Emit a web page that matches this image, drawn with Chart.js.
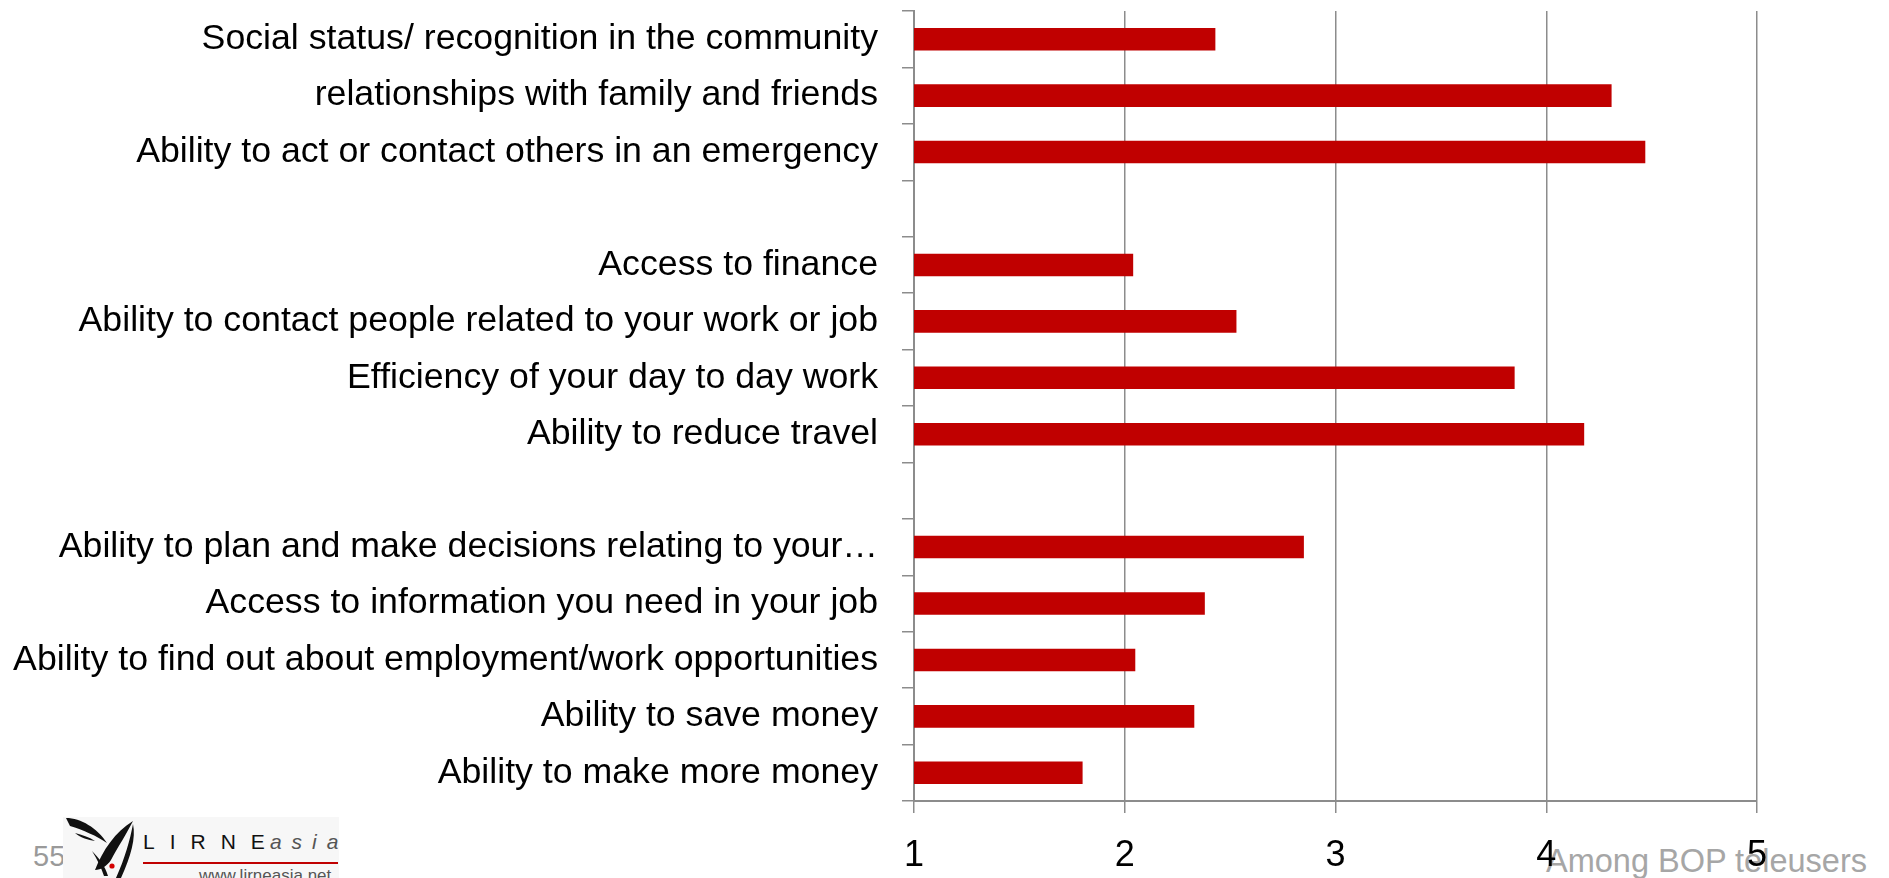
<!DOCTYPE html>
<html>
<head>
<meta charset="utf-8">
<script src="https://cdn.jsdelivr.net/npm/chart.js@4.4.1/dist/chart.umd.min.js"></script>
<style>
  html, body { margin: 0; padding: 0; background: #fff; }
  #wrap { position: relative; width: 1889px; height: 878px; overflow: hidden; }
  #chart { position: absolute; left: 0; top: 0; z-index: 2; }
  .foot { position: absolute; z-index: 1; white-space: nowrap; line-height: 1; }
  #pageNo { left: 33px; top: 840px; font: 29px "Liberation Sans", Arial, sans-serif; color: #9a9a9a; }
  #note { left: 1546px; top: 843px; font: 32.5px "Liberation Sans", Arial, sans-serif; color: #a6a6a6; }
  #logo { left: 63px; top: 817px; width: 276px; height: 61px; background: #f7f7f7; z-index: 1; }
  #logo svg { position: absolute; left: -2px; top: -3px; }
  #brand { position: absolute; left: 80px; top: 13px; font: 21px "Liberation Sans", Arial, sans-serif; color: #111; letter-spacing: 15px; }
  #brand .e { letter-spacing: 5px; }
  #brand i { color: #555; letter-spacing: 10px; }
  #rule { position: absolute; left: 80px; top: 45px; width: 195px; height: 2px; background: #c00000; }
  #url { position: absolute; left: 136px; top: 49px; font: 17px "Liberation Sans", Arial, sans-serif; color: #555; }
</style>
</head>
<body>
<div id="wrap">
  <canvas id="chart" width="1889" height="878"></canvas>
  <div class="foot" id="pageNo">55</div>
  <div class="foot" id="logo">
    <svg width="90" height="64" viewBox="0 0 90 64">
      <path d="M5,4 C20,4 36,14 46,29 C36,22 22,16 9,12 Z" fill="#111"/>
      <path d="M14,19 C21,21 28,23 34,27 C27,26 20,24 14,19 Z" fill="#111"/>
      <path d="M34,56 C42,36 54,18 72,7 C66,19 57,33 50,46 C46,52 40,56 34,56 Z" fill="#111"/>
      <path d="M72,10 C75,24 70,42 60,64 L55,64 C64,44 69,26 72,10 Z" fill="#111"/>
      <path d="M31,37 C38,44 44,52 47,62 L43,62 C40,53 36,45 31,37 Z" fill="#111"/>
      <circle cx="51" cy="52" r="2.6" fill="#d40000"/>
    </svg>
    <div id="brand">LIRN<span class="e">E</span><i>asia</i></div>
    <div id="rule"></div>
    <div id="url">www.lirneasia.net</div>
  </div>
  <div class="foot" id="note">Among BOP teleusers</div>
</div>
<script>
// impact items, top to bottom; blank entries leave a gap between groups
const categories = [
  "Social status/ recognition in the community",
  "relationships with family and friends",
  "Ability to act or contact others in an emergency",
  "",
  "Access to finance",
  "Ability to contact people related to your work or job",
  "Efficiency of your day to day work",
  "Ability to reduce travel",
  " ",
  "Ability to plan and make decisions relating to your\u2026",
  "Access to information you need in your job",
  "Ability to find out about employment/work opportunities",
  "Ability to save money",
  "Ability to make more money"
];

// mean rating on a 1-5 scale
const meanScores = [2.43, 4.31, 4.47, null, 2.04, 2.53, 3.85, 4.18, null, 2.85, 2.38, 2.05, 2.33, 1.80];

const scaleTicks = [1, 2, 3, 4, 5];

const axisGray = "#8c8c8c";
const labelFont = "'Liberation Sans', Arial, sans-serif";

const ctx = document.getElementById("chart");

const data = {
  labels: categories,
  datasets: [
    {
      label: "Mean score",
      data: meanScores,
      backgroundColor: "#c00000",
      borderWidth: 0,
      categoryPercentage: 0.4,
      barPercentage: 1.0,
    },
  ],
};

const config = {
  type: "bar",
  data: data,
  options: {
    indexAxis: "y",
    responsive: false,
    animation: false,
    layout: {
      padding: { left: 12, top: 11, right: 132, bottom: 0 },
    },
    plugins: {
      legend: { display: false },
      tooltip: { enabled: false },
    },
    scales: {
      x: {
        type: "linear",
        min: scaleTicks[0],
        max: scaleTicks[scaleTicks.length - 1],
        afterBuildTicks: (scale) => {
          scale.ticks = scaleTicks.map((v) => ({ value: v }));
        },
        afterFit: (scale) => {
          scale.height = 77;
          scale.paddingLeft = 0;
          scale.paddingRight = 0;
        },
        grid: {
          color: axisGray,
          lineWidth: 1.5,
          tickLength: 12,
          drawOnChartArea: true,
        },
        border: { color: axisGray, width: 2 },
        ticks: {
          color: "#000",
          padding: 21,
          font: { family: labelFont, size: 36 },
        },
      },
      y: {
        afterFit: (scale) => {
          scale.width = 902;
          scale.paddingTop = 0;
          scale.paddingBottom = 0;
        },
        grid: {
          color: axisGray,
          lineWidth: 1.5,
          tickLength: 12,
          drawOnChartArea: false,
        },
        border: { color: axisGray, width: 2 },
        ticks: {
          color: "#000",
          autoSkip: false,
          padding: 24,
          font: { family: labelFont, size: 35.7 },
        },
      },
    },
  },
};

new Chart(ctx, config);
</script>
</body>
</html>
